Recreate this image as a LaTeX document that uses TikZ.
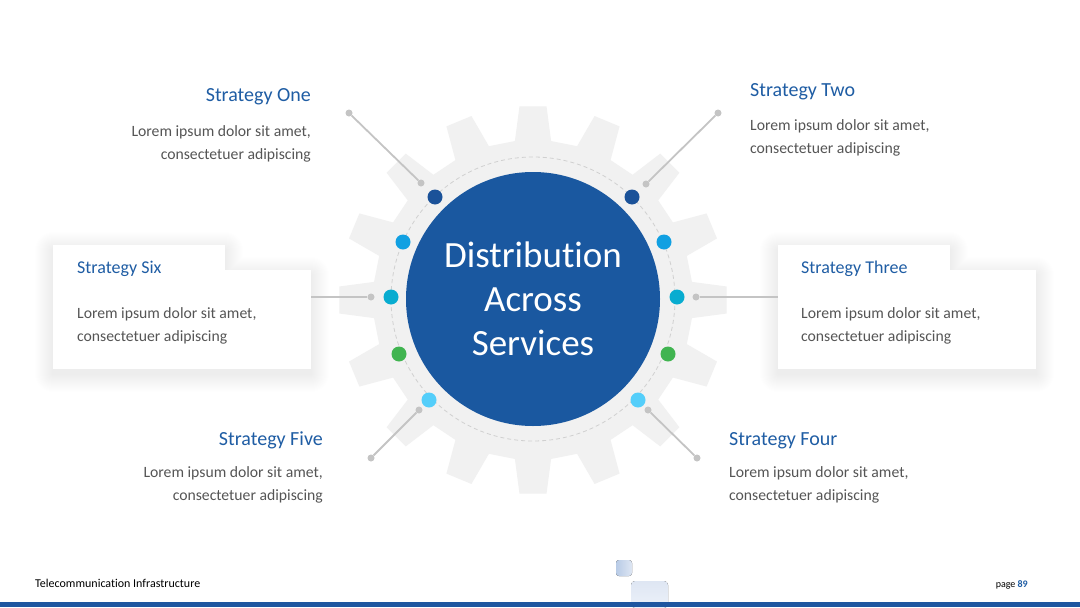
\documentclass[tikz,border=0pt]{standalone}
\usepackage{fontspec}
\setmainfont{Carlito}[Ligatures=NoCommon]
\definecolor{gearc}{RGB}{241,241,241}
\definecolor{hubblue}{RGB}{26,88,160}
\definecolor{titleblue}{RGB}{31,93,164}
\definecolor{bodygray}{RGB}{85,85,85}
\definecolor{linegray}{RGB}{196,196,196}
\definecolor{dashgray}{RGB}{208,208,208}
\definecolor{dotdark}{RGB}{27,82,153}
\definecolor{dotlight}{RGB}{17,160,226}
\definecolor{dotteal}{RGB}{8,172,208}
\definecolor{dotgreen}{RGB}{64,180,80}
\definecolor{dotsky}{RGB}{84,206,250}
\definecolor{barblue}{RGB}{30,86,160}
\definecolor{sqA}{RGB}{184,203,230}
\definecolor{sqB}{RGB}{222,230,243}
\definecolor{sqC}{RGB}{236,241,249}
\tikzset{
  dotnode/.style={circle,inner sep=0pt,minimum size=15pt},
  pin/.style={circle,inner sep=0pt,minimum size=7pt,fill=linegray},
  conn/.style={draw=linegray,line width=1.8pt},
  title/.style={inner sep=0pt,text=titleblue,font=\fontsize{20}{24}\selectfont},
  boxtitle/.style={inner sep=0pt,text=titleblue,font=\fontsize{18}{22}\selectfont},
  body/.style={inner sep=0pt,text=bodygray,font=\fontsize{15.7}{23}\selectfont},
  boxnode/.style={fill=white,inner sep=0pt,draw=none},
  hub/.style={inner sep=0pt,text=white,font=\fontsize{37}{44}\selectfont}
}
\begin{document}
\begin{tikzpicture}[x=1pt,y=-1pt]
\useasboundingbox (0,0) rectangle (1080,608);
\fill[white] (0,0) rectangle (1080,608);

% gear
\begin{scope}[shift={(533,300)}]
\fill[gearc] (-6.5:160) \foreach \k in {0,...,15}{ -- ({\k*22.5-6.5}:160) -- ({\k*22.5-4}:194) -- ({\k*22.5+4}:194) -- ({\k*22.5+6.5}:160)} -- cycle;
\end{scope}
\draw[dashgray,line width=0.8pt,dash pattern=on 4pt off 3pt] (533,299) circle[radius=142];
\node[circle,fill=hubblue,minimum size=254pt,inner sep=0pt] (hubc) at (533,299) {};
\node[hub,anchor=base] (ct1) at (533,267) {Distribution};
\node[hub,anchor=base] (ct2) at (533,311) {Across};
\node[hub,anchor=base] (ct3) at (533,355) {Services};

% coloured dots
\node[dotnode,fill=dotdark] (d1) at (435,197) {};
\node[dotnode,fill=dotdark] (d2) at (632,197) {};
\node[dotnode,fill=dotlight] (l1) at (403,242) {};
\node[dotnode,fill=dotlight] (l2) at (664,242) {};
\node[dotnode,fill=dotteal] (t1) at (391,297) {};
\node[dotnode,fill=dotteal] (t2) at (677,297) {};
\node[dotnode,fill=dotgreen] (g1) at (399,354) {};
\node[dotnode,fill=dotgreen] (g2) at (668,354) {};
\node[dotnode,fill=dotsky] (s1) at (429,400) {};
\node[dotnode,fill=dotsky] (s2) at (638,400) {};

% box shadows
\foreach \i in {1,...,18}{
  \fill[black,opacity=0.005,rounded corners=\i] (53-\i,245-\i+5) rectangle (225+\i,272+\i+5) (53-\i,270-\i+5) rectangle (311+\i,369+\i+5);
  \fill[black,opacity=0.005,rounded corners=\i] (778-\i,245-\i+5) rectangle (950+\i,272+\i+5) (778-\i,270-\i+5) rectangle (1036+\i,369+\i+5);
}
\node[boxnode,minimum width=172pt,minimum height=27pt] (tab6) at (139,258.5) {};
\node[boxnode,minimum width=258pt,minimum height=99pt] (box6) at (182,319.5) {};
\node[boxnode,minimum width=172pt,minimum height=27pt] (tab3) at (864,258.5) {};
\node[boxnode,minimum width=258pt,minimum height=99pt] (box3) at (907,319.5) {};

% connector pins
\node[pin] (p1a) at (349,113) {};
\node[pin] (p1b) at (421,183) {};
\node[pin] (p2a) at (718,113) {};
\node[pin] (p2b) at (646,184) {};
\node[pin] (p6) at (371,297) {};
\node[pin] (p3) at (696,297) {};
\node[pin] (p5a) at (371,458) {};
\node[pin] (p5b) at (419,410) {};
\node[pin] (p4a) at (648,410) {};
\node[pin] (p4b) at (697,458) {};
\draw[conn] (p1a) -- (p1b);
\draw[conn] (p2a) -- (p2b);
\draw[conn] (p5a) -- (p5b);
\draw[conn] (p4a) -- (p4b);
\draw[conn] (p6) -- (p6 -| box6.east);
\draw[conn] (p3) -- (p3 -| box3.west);

% texts
\node[title,anchor=base east] (h1) at (311,101) {Strategy One};
\node[body,anchor=base east] (b1a) at (311,136) {Lorem ipsum dolor sit amet,};
\node[body,anchor=base east] (b1b) at (311,159) {consectetuer adipiscing};

\node[title,anchor=base west] (h2) at (750,96) {Strategy Two};
\node[body,anchor=base west] (b2a) at (750,130) {Lorem ipsum dolor sit amet,};
\node[body,anchor=base west] (b2b) at (750,153) {consectetuer adipiscing};

\node[boxtitle,anchor=base west] (h6) at (77,273) {Strategy Six};
\node[body,anchor=base west] (b6a) at (77,318) {Lorem ipsum dolor sit amet,};
\node[body,anchor=base west] (b6b) at (77,341) {consectetuer adipiscing};

\node[boxtitle,anchor=base west] (h3) at (801,273) {Strategy Three};
\node[body,anchor=base west] (b3a) at (801,318) {Lorem ipsum dolor sit amet,};
\node[body,anchor=base west] (b3b) at (801,341) {consectetuer adipiscing};

\node[title,anchor=base east] (h5) at (323,445) {Strategy Five};
\node[body,anchor=base east] (b5a) at (323,477) {Lorem ipsum dolor sit amet,};
\node[body,anchor=base east] (b5b) at (323,500) {consectetuer adipiscing};

\node[title,anchor=base west] (h4) at (729,445) {Strategy Four};
\node[body,anchor=base west] (b4a) at (729,477) {Lorem ipsum dolor sit amet,};
\node[body,anchor=base west] (b4b) at (729,500) {consectetuer adipiscing};

% footer
\fill[left color=sqA,right color=sqB,rounded corners=3pt] (616,560) rectangle (632,576);
\fill[top color=sqB,bottom color=sqC,rounded corners=4pt] (631,581) rectangle (668,608);
\fill[barblue] (0,602) rectangle (1080,607);
\node[inner sep=0pt,anchor=base west,font=\fontsize{12}{14}\selectfont] (foot) at (35,587) {Telecommunication Infrastructure};
\node[inner sep=0pt,anchor=base east,font=\fontsize{10}{12}\selectfont] (page) at (1028,587) {page \textbf{\color{titleblue}89}};
\end{tikzpicture}
\end{document}
